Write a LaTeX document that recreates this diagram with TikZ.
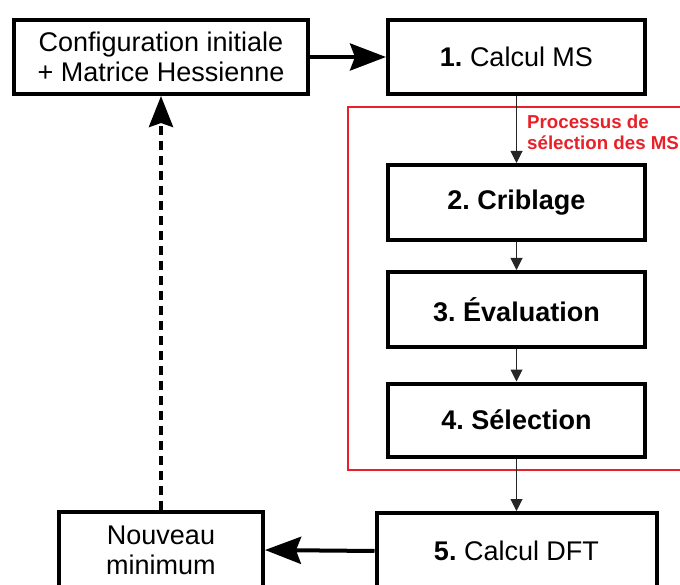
\documentclass[tikz,border=0pt]{standalone}
\usepackage{fontspec}
\setmainfont{Liberation Sans}
\usetikzlibrary{arrows.meta}
\definecolor{procred}{RGB}{232,32,40}
\frenchspacing
\begin{document}
\begin{tikzpicture}[x=1pt,y=-1pt,
  stepbox/.style={draw,line width=4pt,inner sep=0pt,align=center,
    font=\fontsize{27}{30}\selectfont},
  thin/.style={line width=1pt,draw=black!85,-{Triangle[length=12pt,width=12pt]}},
  thick/.style={line width=4pt,-{Stealth[length=36pt,width=27pt,inset=5pt]}},
  dotarrow/.style={line width=4pt,dash pattern=on 9pt off 6pt,-{Stealth[length=31pt,width=24pt,inset=4pt]}}
]
\useasboundingbox (0,0) rectangle (680,585);
\clip (0,0) rectangle (680,585);
\node[stepbox,minimum width=294pt,minimum height=74pt] (init) at (161,57)
  {Configuration initiale\\+ Matrice Hessienne};
\node[stepbox,minimum width=257pt,minimum height=74pt] (ms) at (516.5,57)
  {\textbf{1.} Calcul MS};
\node[stepbox,minimum width=257pt,minimum height=75pt,font=\fontsize{27}{30}\selectfont\bfseries] (crib) at (516.5,202.5)
  {2. Criblage};
\node[stepbox,minimum width=257pt,minimum height=75pt,font=\fontsize{27}{30}\selectfont\bfseries] (eval) at (516.5,309.5)
  {3. Évaluation};
\node[stepbox,minimum width=257pt,minimum height=73pt,font=\fontsize{27}{30}\selectfont\bfseries] (sel) at (516.5,420)
  {4. Sélection};
\node[stepbox,minimum width=280pt,minimum height=76pt] (dft) at (516.5,551)
  {\textbf{5.} Calcul DFT};
\node[stepbox,minimum width=204pt,minimum height=76pt] (nouv) at (161,550)
  {Nouveau\\minimum};
\draw[procred,line width=1.5pt] (348,107) rectangle (700,470);
\node[anchor=north west,inner sep=0pt,align=left,text=procred,
  font=\fontsize{18.7}{21}\selectfont\bfseries] (lbl) at (527,115)
  {Processus de\\sélection des MS};
\draw[thick] (init) -- (ms);
\draw[thin] (ms) -- (crib);
\draw[thin] (crib) -- (eval);
\draw[thin] (eval) -- (sel);
\draw[thin] (sel) -- (dft);
\draw[thick] (dft.west) -- (nouv.east);
\draw[dotarrow] (nouv.north) -- (init.south);
\end{tikzpicture}
\end{document}
